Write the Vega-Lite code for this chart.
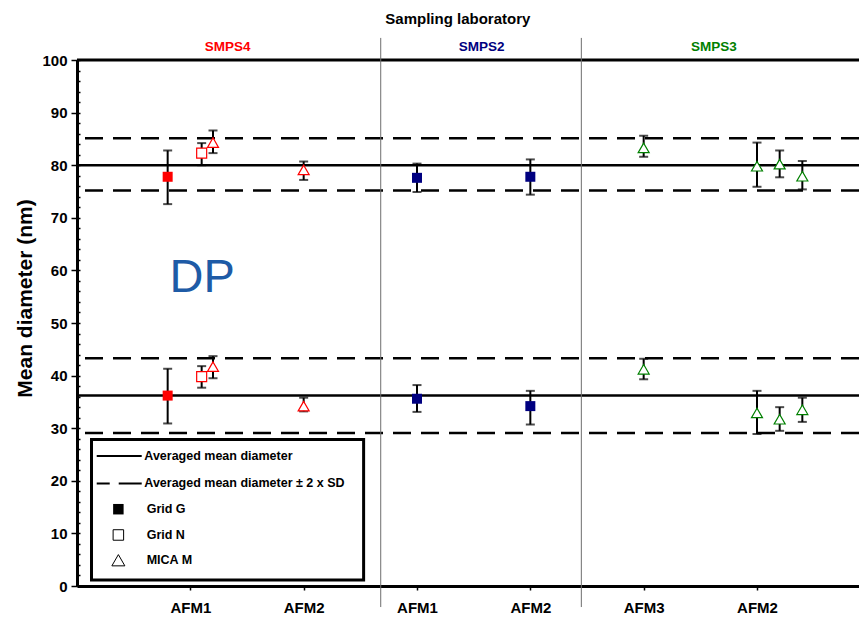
{
  "$schema": "https://vega.github.io/schema/vega-lite/v6.json",
  "width": 782,
  "height": 526,
  "autosize": {"type": "none"},
  "padding": {"left": 77, "top": 60, "right": 0, "bottom": 38},
  "background": "white",
  "config": {"font": "Liberation Sans", "view": {"stroke": null}},
  "datasets": {
    "pts": [
      {"x": 0.8, "y": 77.8, "lo": 72.6, "hi": 82.8, "lab": "SMPS4", "grid": "Grid G"},
      {"x": 0.8, "y": 36.2, "lo": 30.9, "hi": 41.3, "lab": "SMPS4", "grid": "Grid G"},
      {"x": 1.1, "y": 82.3, "lo": 80.0, "hi": 84.2, "lab": "SMPS4", "grid": "Grid N"},
      {"x": 1.1, "y": 39.8, "lo": 37.7, "hi": 41.8, "lab": "SMPS4", "grid": "Grid N"},
      {"x": 1.2, "y": 84.3, "lo": 82.3, "hi": 86.6, "lab": "SMPS4", "grid": "MICA M"},
      {"x": 1.2, "y": 41.7, "lo": 39.5, "hi": 43.7, "lab": "SMPS4", "grid": "MICA M"},
      {"x": 2.0, "y": 79.1, "lo": 77.2, "hi": 80.7, "lab": "SMPS4", "grid": "MICA M"},
      {"x": 2.0, "y": 34.2, "lo": 33.2, "hi": 35.8, "lab": "SMPS4", "grid": "MICA M"},
      {"x": 3.0, "y": 77.6, "lo": 74.9, "hi": 80.3, "lab": "SMPS2", "grid": "Grid G"},
      {"x": 3.0, "y": 35.6, "lo": 33.1, "hi": 38.2, "lab": "SMPS2", "grid": "Grid G"},
      {"x": 4.0, "y": 77.8, "lo": 74.4, "hi": 81.1, "lab": "SMPS2", "grid": "Grid G"},
      {"x": 4.0, "y": 34.2, "lo": 30.7, "hi": 37.1, "lab": "SMPS2", "grid": "Grid G"},
      {"x": 5.0, "y": 83.3, "lo": 81.6, "hi": 85.6, "lab": "SMPS3", "grid": "MICA M"},
      {"x": 5.0, "y": 41.2, "lo": 39.3, "hi": 43.2, "lab": "SMPS3", "grid": "MICA M"},
      {"x": 6.0, "y": 79.8, "lo": 75.9, "hi": 84.3, "lab": "SMPS3", "grid": "MICA M"},
      {"x": 6.0, "y": 32.9, "lo": 28.9, "hi": 37.1, "lab": "SMPS3", "grid": "MICA M"},
      {"x": 6.2, "y": 80.2, "lo": 77.7, "hi": 82.8, "lab": "SMPS3", "grid": "MICA M"},
      {"x": 6.2, "y": 31.7, "lo": 29.5, "hi": 34.0, "lab": "SMPS3", "grid": "MICA M"},
      {"x": 6.4, "y": 77.9, "lo": 75.4, "hi": 80.8, "lab": "SMPS3", "grid": "MICA M"},
      {"x": 6.4, "y": 33.5, "lo": 31.2, "hi": 35.8, "lab": "SMPS3", "grid": "MICA M"}
    ],
    "lines": [
      {"y": 80.0, "kind": "mean"},
      {"y": 85.1, "kind": "sd"},
      {"y": 75.2, "kind": "sd"},
      {"y": 36.2, "kind": "mean"},
      {"y": 43.3, "kind": "sd"},
      {"y": 29.1, "kind": "sd"}
    ],
    "seps": [{"x": 2.68}, {"x": 4.45}],
    "heads": [
      {"x": 1.33, "y": 102.4, "lab": "SMPS4"},
      {"x": 3.57, "y": 102.4, "lab": "SMPS2"},
      {"x": 5.62, "y": 102.4, "lab": "SMPS3"}
    ],
    "legtext": [
      {"x": 0.594, "y": 24.7, "txt": "Averaged mean diameter"},
      {"x": 0.594, "y": 19.5, "txt": "Averaged mean diameter ± 2 x SD"},
      {"x": 0.615, "y": 14.6, "txt": "Grid G"},
      {"x": 0.615, "y": 9.7, "txt": "Grid N"},
      {"x": 0.615, "y": 4.9, "txt": "MICA M"}
    ]
  },
  "resolve": {"scale": {"y": "independent"}},
  "layer": [
    {
      "layer": [
        {
          "data": {"name": "lines"},
          "transform": [{"filter": "datum.kind === 'mean'"}],
          "mark": {"type": "rule", "color": "black", "strokeWidth": 2.5},
          "encoding": {
            "y": {
              "field": "y", "type": "quantitative",
              "scale": {"domain": [0, 100], "nice": false, "zero": true},
              "axis": {
                "title": "Mean  diameter (nm)",
                "titleFontSize": 21, "titleFontWeight": "bold", "titleColor": "black",
                "titleX": -52, "titleY": 238, "titleAngle": 270,
                "titleAlign": "center", "titleBaseline": "middle",
                "values": [0, 10, 20, 30, 40, 50, 60, 70, 80, 90, 100],
                "labelFontSize": 15, "labelFontWeight": "bold", "labelColor": "black",
                "labelPadding": 4, "labelOverlap": false,
                "tickSize": 6, "tickColor": "black", "tickWidth": 1.5,
                "domainColor": "black", "domainWidth": 3, "grid": false
              }
            }
          }
        },
        {
          "data": {"name": "lines"},
          "transform": [{"filter": "datum.kind === 'sd'"}],
          "mark": {"type": "rule", "color": "black", "strokeWidth": 2.5, "strokeDash": [18, 10]},
          "encoding": {"y": {"field": "y", "type": "quantitative"}}
        },
        {
          "data": {"values": [{}]},
          "mark": {"type": "rule", "color": "black", "strokeWidth": 3},
          "encoding": {"y": {"datum": 100}}
        },
        {
          "data": {"name": "seps"},
          "mark": {"type": "rule", "color": "#6e6e6e", "strokeWidth": 1},
          "encoding": {
            "x": {"field": "x", "type": "quantitative"},
            "y": {"datum": -4},
            "y2": {"datum": 104.2}
          }
        },
        {
          "data": {"name": "pts"},
          "mark": {"type": "rule", "color": "black", "strokeWidth": 2},
          "encoding": {
            "x": {
              "field": "x", "type": "quantitative",
              "scale": {"domain": [0, 6.9], "nice": false, "zero": true},
              "axis": {
                "title": null,
                "values": [1, 2, 3, 4, 5, 6],
                "labelExpr": "['','AFM1','AFM2','AFM1','AFM2','AFM3','AFM2'][datum.value]",
                "labelFontSize": 15, "labelFontWeight": "bold", "labelColor": "black",
                "labelPadding": 10,
                "tickSize": 4, "tickColor": "black", "tickWidth": 1.5,
                "domainColor": "black", "domainWidth": 3, "grid": false
              }
            },
            "y": {"field": "lo", "type": "quantitative"},
            "y2": {"field": "hi"}
          }
        },
        {
          "data": {"name": "pts"},
          "mark": {"type": "tick", "orient": "horizontal", "color": "black", "size": 9, "thickness": 2},
          "encoding": {
            "x": {"field": "x", "type": "quantitative"},
            "y": {"field": "lo", "type": "quantitative"}
          }
        },
        {
          "data": {"name": "pts"},
          "mark": {"type": "tick", "orient": "horizontal", "color": "black", "size": 9, "thickness": 2},
          "encoding": {
            "x": {"field": "x", "type": "quantitative"},
            "y": {"field": "hi", "type": "quantitative"}
          }
        },
        {
          "data": {"name": "pts"},
          "transform": [{"filter": "datum.grid === 'Grid G'"}],
          "mark": {"type": "point", "shape": "square", "filled": true, "size": 100, "opacity": 1},
          "encoding": {
            "x": {"field": "x", "type": "quantitative"},
            "y": {"field": "y", "type": "quantitative"},
            "color": {"field": "lab", "type": "nominal", "scale": {"domain": ["SMPS4", "SMPS2", "SMPS3"], "range": ["#FF0000", "#000080", "#008000"]}, "legend": null}
          }
        },
        {
          "data": {"name": "pts"},
          "transform": [{"filter": "datum.grid === 'Grid N'"}],
          "mark": {"type": "point", "shape": "square", "filled": false, "fill": "white", "fillOpacity": 1, "strokeWidth": 1.2, "size": 100, "opacity": 1},
          "encoding": {
            "x": {"field": "x", "type": "quantitative"},
            "y": {"field": "y", "type": "quantitative"},
            "stroke": {"field": "lab", "type": "nominal", "scale": {"domain": ["SMPS4", "SMPS2", "SMPS3"], "range": ["#FF0000", "#000080", "#008000"]}, "legend": null}
          }
        },
        {
          "data": {"name": "pts"},
          "transform": [{"filter": "datum.grid === 'MICA M'"}],
          "mark": {"type": "point", "shape": "triangle-up", "filled": false, "fill": "white", "fillOpacity": 1, "strokeWidth": 1.2, "size": 121, "opacity": 1},
          "encoding": {
            "x": {"field": "x", "type": "quantitative"},
            "y": {"field": "y", "type": "quantitative"},
            "stroke": {"field": "lab", "type": "nominal", "scale": {"domain": ["SMPS4", "SMPS2", "SMPS3"], "range": ["#FF0000", "#000080", "#008000"]}, "legend": null}
          }
        },
        {
          "data": {"name": "heads"},
          "mark": {"type": "text", "fontSize": 13.5, "fontWeight": "bold", "align": "center", "baseline": "middle"},
          "encoding": {
            "x": {"field": "x", "type": "quantitative"},
            "y": {"field": "y", "type": "quantitative"},
            "text": {"field": "lab"},
            "color": {"field": "lab", "type": "nominal", "legend": null}
          }
        },
        {
          "data": {"values": [{"t": "Sampling laboratory"}]},
          "mark": {"type": "text", "fontSize": 15, "fontWeight": "bold", "align": "center", "baseline": "middle", "color": "black"},
          "encoding": {
            "x": {"datum": 3.36},
            "y": {"datum": 107.8},
            "text": {"field": "t"}
          }
        },
        {
          "data": {"values": [{"t": "DP"}]},
          "mark": {"type": "text", "fontSize": 47, "fontWeight": "normal", "align": "center", "baseline": "alphabetic", "color": "#1E5BA6"},
          "encoding": {
            "x": {"datum": 1.105},
            "y": {"datum": 55.9},
            "text": {"field": "t"}
          }
        },
        {
          "data": {"values": [{}]},
          "mark": {"type": "rect", "fill": "white", "stroke": "black", "strokeWidth": 3},
          "encoding": {
            "x": {"datum": 0.128},
            "x2": {"datum": 2.529},
            "y": {"datum": 1.14},
            "y2": {"datum": 27.85}
          }
        },
        {
          "data": {"values": [{}]},
          "mark": {"type": "rule", "color": "black", "strokeWidth": 2},
          "encoding": {
            "x": {"datum": 0.174},
            "x2": {"datum": 0.571},
            "y": {"datum": 24.7}
          }
        },
        {
          "data": {"values": [{}]},
          "mark": {"type": "rule", "color": "black", "strokeWidth": 2, "strokeDash": [13, 9, 23]},
          "encoding": {
            "x": {"datum": 0.174},
            "x2": {"datum": 0.571},
            "y": {"datum": 19.5}
          }
        },
        {
          "data": {"values": [{}]},
          "mark": {"type": "point", "shape": "square", "filled": true, "color": "black", "size": 110, "opacity": 1},
          "encoding": {"x": {"datum": 0.365}, "y": {"datum": 14.6}}
        },
        {
          "data": {"values": [{}]},
          "mark": {"type": "point", "shape": "square", "filled": false, "fill": "white", "fillOpacity": 1, "stroke": "black", "strokeWidth": 1, "size": 110, "opacity": 1},
          "encoding": {"x": {"datum": 0.365}, "y": {"datum": 9.7}}
        },
        {
          "data": {"values": [{}]},
          "mark": {"type": "point", "shape": "triangle-up", "filled": false, "fill": "white", "fillOpacity": 1, "stroke": "black", "strokeWidth": 1, "size": 169, "opacity": 1},
          "encoding": {"x": {"datum": 0.365}, "y": {"datum": 4.9}}
        },
        {
          "data": {"name": "legtext"},
          "mark": {"type": "text", "fontSize": 12.5, "fontWeight": "bold", "align": "left", "baseline": "middle", "color": "black"},
          "encoding": {
            "x": {"field": "x", "type": "quantitative"},
            "y": {"field": "y", "type": "quantitative"},
            "text": {"field": "txt"}
          }
        }
      ]
    },
    {
      "data": {"values": [{"v": 0}, {"v": 100}]},
      "mark": {"type": "point", "opacity": 0},
      "encoding": {
        "y": {
          "field": "v", "type": "quantitative",
          "scale": {"domain": [0, 100], "nice": false, "zero": true},
          "axis": {
            "orient": "right", "offset": -782, "title": null,
            "values": [0,2,4,6,8,10,12,14,16,18,20,22,24,26,28,30,32,34,36,38,40,42,44,46,48,50,52,54,56,58,60,62,64,66,68,70,72,74,76,78,80,82,84,86,88,90,92,94,96,98,100],
            "labels": false, "domain": false, "grid": false,
            "tickSize": 3, "tickColor": "black", "tickWidth": 1.5
          }
        }
      }
    }
  ]
}
